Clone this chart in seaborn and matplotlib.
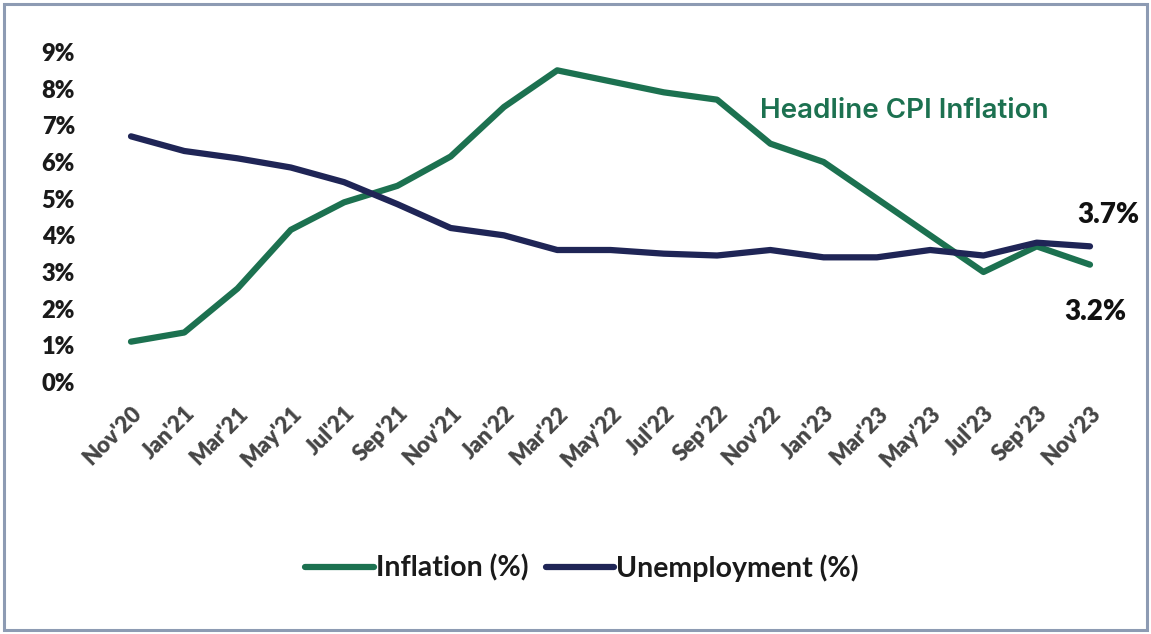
import matplotlib
matplotlib.use("Agg")
import matplotlib.pyplot as plt
from matplotlib.patches import Rectangle
import seaborn as sns
import pandas as pd

# Bimonthly readings, Nov 2020 - Nov 2023
months = ["Nov'20", "Jan'21", "Mar'21", "May'21", "Jul'21", "Sep'21", "Nov'21",
          "Jan'22", "Mar'22", "May'22", "Jul'22", "Sep'22", "Nov'22", "Jan'23",
          "Mar'23", "May'23", "Jul'23", "Sep'23", "Nov'23"]
inflation = [1.1, 1.35, 2.55, 4.15, 4.9, 5.35, 6.15, 7.5, 8.5, 8.2, 7.9, 7.7,
             6.5, 6.0, 5.0, 4.0, 3.0, 3.7, 3.2]
unemployment = [6.7, 6.3, 6.1, 5.85, 5.45, 4.85, 4.2, 4.0, 3.6, 3.6, 3.5, 3.45,
                3.6, 3.4, 3.4, 3.6, 3.45, 3.8, 3.7]
y_ticks = [0, 1, 2, 3, 4, 5, 6, 7, 8, 9]

GREEN = "#1c7150"
NAVY = "#1f2556"

df = pd.DataFrame({
    "pos": list(range(len(months))) * 2,
    "value": inflation + unemployment,
    "series": ["Inflation (%)"] * len(months) + ["Unemployment (%)"] * len(months),
})

sns.set_theme(style="white")
plt.rcParams["font.family"] = ["Lato", "DejaVu Sans"]

W, H = 1151, 634
fig = plt.figure(figsize=(W / 100, H / 100), dpi=100)

# axes placed in pixel terms: x from 100 to 1110, y (0..9) from 382 to 52
left_px, right_px = 100, 1110
top_px, bottom_px = 52, 382
ax = fig.add_axes([left_px / W, 1 - bottom_px / H,
                   (right_px - left_px) / W, (bottom_px - top_px) / H])

sns.lineplot(data=df, x="pos", y="value", hue="series",
             palette={"Inflation (%)": GREEN, "Unemployment (%)": NAVY},
             linewidth=4.5, ax=ax, legend=True)
for ln in ax.lines:
    ln.set_solid_capstyle("round")
    ln.set_clip_on(False)

unit = (1090 - 131) / 18
ax.set_xlim(-(131 - left_px) / unit, 18 + (right_px - 1090) / unit)
ax.set_ylim(0, 9)

ax.set_yticks(y_ticks)
ax.set_yticklabels([f"{t}%" for t in y_ticks], fontsize=17, fontweight="heavy",
                   color="#1a1a1a")
ax.set_xticks(range(len(months)))
ax.set_xticklabels(months, rotation=45, ha="right", rotation_mode="anchor",
                   fontsize=16, fontweight="heavy", color="#454545")
ax.tick_params(axis="y", length=0, pad=18)
ax.tick_params(axis="x", length=0, pad=15)
ax.set_xlabel("")
ax.set_ylabel("")
for s in ax.spines.values():
    s.set_visible(False)
ax.grid(False)

# annotations
ax.text(11.8, 7.4, "Headline CPI Inflation", color=GREEN, fontsize=20,
        fontweight="semibold", va="center", ha="left", family=["Inter", "DejaVu Sans"])
ax.text(18.35, 4.55, f"{unemployment[-1]:.1f}%", fontsize=20, fontweight="heavy",
        color="#111111", ha="center", va="center")
ax.text(18.1, 1.9, f"{inflation[-1]:.1f}%", fontsize=20, fontweight="heavy",
        color="#111111", ha="center", va="center")

# legend below the axes
leg = ax.legend(loc="center",
                bbox_to_anchor=((582 - left_px) / (right_px - left_px),
                                1 - (568 - top_px) / (bottom_px - top_px)),
                ncol=2, frameon=False, handlelength=2.4, handletextpad=0.08,
                columnspacing=0.6,
                prop={"size": 20.5, "weight": "bold"})
for h in leg.get_lines():
    h.set_linewidth(4.5)
for t in leg.get_texts():
    t.set_color("#1a1a1a")

# thin frame around the whole chart
fig.patches.append(Rectangle((4 / W, 4 / H), 1 - 8 / W, 1 - 8 / H,
                             transform=fig.transFigure, fill=False,
                             edgecolor="#8d9bb3", linewidth=2.2))

fig.savefig("out.png", dpi=100, facecolor="white")
